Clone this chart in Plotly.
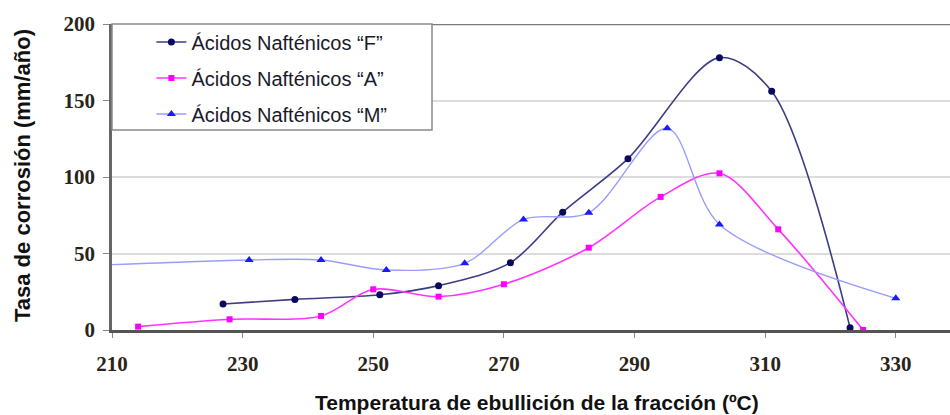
import plotly.graph_objects as go

# Boiling temperature of the fraction (°C) and corrosion rate (mm/año) per acid type
temp_f = [227, 238, 251, 260, 271, 279, 289, 303, 311, 323]
rate_f = [17, 20, 23, 29, 44, 77, 112, 178, 156, 1.5]

temp_a = [214, 228, 242, 250, 260, 270, 283, 294, 303, 312, 325]
rate_a = [2.2, 7, 9.2, 26.6, 21.8, 29.9, 53.8, 87, 102.4, 65.8, 0]

temp_m = [206, 231, 242, 252, 264, 273, 283, 295, 303, 330]
rate_m = [42, 45.8, 45.8, 39.2, 43.6, 72.3, 76.7, 131.8, 69, 20.7]

names = ["Ácidos Nafténicos “F”", "Ácidos Nafténicos “A”", "Ácidos Nafténicos “M”"]
x_ticks = [210, 230, 250, 270, 290, 310, 330]
y_ticks = [0, 50, 100, 150, 200]

tick_font = dict(family="Liberation Serif, Times New Roman, DejaVu Serif, serif",
                 size=21, color="#2a2418", weight="bold")
title_font = dict(family="Liberation Sans", size=21, color="#111111")

fig = go.Figure()

fig.add_trace(go.Scatter(
    x=temp_f, y=rate_f, name=names[0], legendgroup="f",
    mode="lines+markers", line=dict(color="#3d3d86", width=1.6, shape="spline", smoothing=0.9),
    marker=dict(symbol="circle", size=7, color="#0a0a5c"),
))
fig.add_trace(go.Scatter(
    x=temp_a, y=rate_a, name=names[1], legendgroup="a",
    mode="lines+markers", line=dict(color="#ff33ff", width=1.6, shape="spline", smoothing=0.9),
    marker=dict(symbol="square", size=6, color="#ff00ff"),
))
fig.add_trace(go.Scatter(
    x=temp_m, y=rate_m, name=names[2], legendgroup="m",
    mode="lines+markers", line=dict(color="#9a9cff", width=1.4, shape="spline", smoothing=0.9),
    marker=dict(symbol="triangle-up", size=8, color="#1a1aff"),
))

fig.update_layout(
    width=950, height=415,
    margin=dict(l=112, r=0, t=24, b=85),
    paper_bgcolor="white", plot_bgcolor="white",
    showlegend=True,
    legend=dict(
        x=0.047, y=1.005, xanchor="left", yanchor="top",
        bgcolor="rgba(0,0,0,0)", borderwidth=0,
        font=dict(family="Liberation Sans", size=20, color="#1a1a2a"),
        traceorder="grouped", tracegroupgap=7,
        itemwidth=30,
    ),
    xaxis=dict(
        range=[210, 338.3], tickvals=x_ticks, showgrid=False, zeroline=False,
        showline=True, linecolor="#555555", linewidth=3,
        ticks="outside", ticklen=5, tickcolor="#888888",
        ticklabelstandoff=8,
        tickfont=tick_font,
    ),
    yaxis=dict(
        range=[0, 200], tickvals=y_ticks, showgrid=True, gridcolor="#dcdcdc", gridwidth=1.5,
        zeroline=False, showline=True, linecolor="#666666", linewidth=2.5,
        ticks="outside", ticklen=6, tickcolor="#888888",
        ticklabelstandoff=4,
        tickfont=tick_font,
    ),
    shapes=[
        # top border of the plotting area
        dict(type="line", xref="paper", yref="y", x0=0, x1=1, y0=200, y1=200,
             line=dict(color="#7a7a7a", width=2.5), layer="above"),
        # legend frame
        dict(type="rect", xref="paper", yref="paper", x0=0, x1=320 / 838, y0=(330 - 130) / 306, y1=1,
             line=dict(color="#8a8a8a", width=1.5), fillcolor="white", layer="above"),
    ],
    annotations=[
        dict(text="<b>Temperatura de ebullición de la fracción (ºC)</b>", xref="paper", yref="paper",
             x=(537 - 112) / 838, y=-(402 - 330) / 306, xanchor="center", yanchor="middle",
             showarrow=False, font=title_font),
        dict(text="<b>Tasa de corrosión (mm/año)</b>", xref="paper", yref="paper",
             x=-(112 - 22) / 838, y=(330 - 176) / 306, xanchor="center", yanchor="middle",
             showarrow=False, textangle=-90, font=dict(title_font, size=22)),
    ],
)

fig.write_html("out.html")
